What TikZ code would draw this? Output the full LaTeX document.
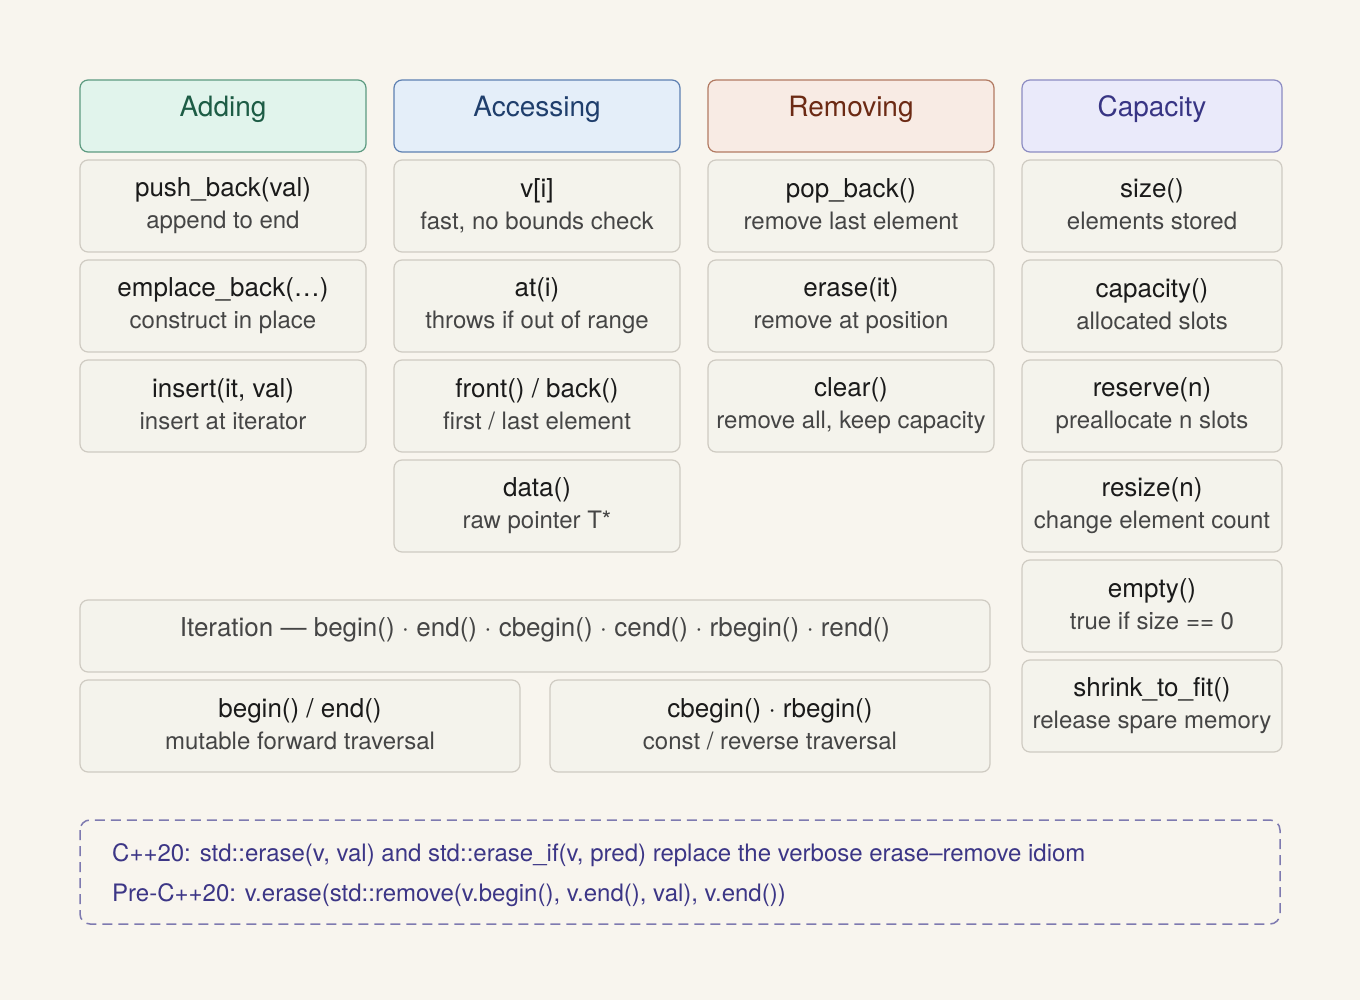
\documentclass[tikz,border=0pt]{standalone}
\usepackage{fontspec}
\setmainfont{TeX Gyre Heros}
\usepackage{tikz}

\definecolor{bgc}{HTML}{F8F5EE}
\definecolor{itemfill}{HTML}{F4F3EC}
\definecolor{itemdraw}{HTML}{CFCBC2}
\definecolor{maintxt}{HTML}{1A1A1A}
\definecolor{subtxt}{HTML}{454545}
\definecolor{addfill}{HTML}{E1F4EC}
\definecolor{adddraw}{HTML}{5C9A80}
\definecolor{addtxt}{HTML}{1D5C45}
\definecolor{accfill}{HTML}{E4EEF9}
\definecolor{accdraw}{HTML}{5E80B2}
\definecolor{acctxt}{HTML}{1F3E6C}
\definecolor{remfill}{HTML}{F8EBE4}
\definecolor{remdraw}{HTML}{B27A62}
\definecolor{remtxt}{HTML}{6C2A14}
\definecolor{capfill}{HTML}{EAEAFA}
\definecolor{capdraw}{HTML}{8C8CC2}
\definecolor{captxt}{HTML}{383584}
\definecolor{notedraw}{HTML}{7E7AB0}
\definecolor{notetxt}{HTML}{3C3686}

% second line of an item: smaller, grey, fixed depth
\newcommand{\subl}{\fontsize{24}{32}\selectfont\color{subtxt}\rule[-4pt]{0pt}{4pt}}

\begin{document}
\begin{tikzpicture}[x=1pt, y=-1pt,
  item/.style={draw=itemdraw, fill=itemfill, line width=1.2pt, rounded corners=8pt, minimum height=92pt, align=center, text=maintxt, font=\fontsize{26}{32}\selectfont, execute at begin node=\rule{0pt}{26pt}},
  head/.style={line width=1.2pt, rounded corners=8pt, minimum height=72pt, inner ysep=0pt, text height=37pt, text depth=35pt, font=\fontsize{28}{32}\selectfont},
  notetext/.style={anchor=base west, inner sep=0pt, text=notetxt, font=\fontsize{24}{30}\selectfont}]
  \fill[bgc] (0,0) rectangle (1360,1000);

  % column headers
  \node[head, draw=adddraw, fill=addfill, text=addtxt, minimum width=286pt] (hadd) at (223,116) {Adding};
  \node[head, draw=accdraw, fill=accfill, text=acctxt, minimum width=286pt] (hacc) at (537,116) {Accessing};
  \node[head, draw=remdraw, fill=remfill, text=remtxt, minimum width=286pt] (hrem) at (851,116) {Removing};
  \node[head, draw=capdraw, fill=capfill, text=captxt, minimum width=260pt] (hcap) at (1152,116) {Capacity};

  % adding
  \node[item, minimum width=286pt] (push) at (223,206) {push\_back(val)\\\subl append to end};
  \node[item, minimum width=286pt] (emplace) at (223,306) {emplace\_back(…)\\\subl construct in place};
  \node[item, minimum width=286pt] (insert) at (223,406) {insert(it, val)\\\subl insert at iterator};

  % accessing
  \node[item, minimum width=286pt] (idx) at (537,206) {v[i]\\\subl fast, no bounds check};
  \node[item, minimum width=286pt] (at) at (537,306) {at(i)\\\subl throws if out of range};
  \node[item, minimum width=286pt] (front) at (537,406) {front() / back()\\\subl first / last element};
  \node[item, minimum width=286pt] (data) at (537,506) {data()\\\subl raw pointer T*};

  % removing
  \node[item, minimum width=286pt] (pop) at (851,206) {pop\_back()\\\subl remove last element};
  \node[item, minimum width=286pt] (erase) at (851,306) {erase(it)\\\subl remove at position};
  \node[item, minimum width=286pt] (clear) at (851,406) {clear()\\\subl remove all, keep capacity};

  % capacity
  \node[item, minimum width=260pt] (size) at (1152,206) {size()\\\subl elements stored};
  \node[item, minimum width=260pt] (cap) at (1152,306) {capacity()\\\subl allocated slots};
  \node[item, minimum width=260pt] (reserve) at (1152,406) {reserve(n)\\\subl preallocate n slots};
  \node[item, minimum width=260pt] (resize) at (1152,506) {resize(n)\\\subl change element count};
  \node[item, minimum width=260pt] (empty) at (1152,606) {empty()\\\subl true if size == 0};
  \node[item, minimum width=260pt] (shrink) at (1152,706) {shrink\_to\_fit()\\\subl release spare memory};

  % iteration
  \node[item, minimum width=910pt, minimum height=72pt, inner ysep=0pt, text height=36pt, text depth=36pt, text=subtxt] (iter) at (535,636) {Iteration — begin() · end() · cbegin() · cend() · rbegin() · rend()};
  \node[item, minimum width=440pt] (beginend) at (300,726) {begin() / end()\\\subl mutable forward traversal};
  \node[item, minimum width=440pt] (cbegin) at (770,726) {cbegin() · rbegin()\\\subl const / reverse traversal};

  % note
  \draw[notedraw, line width=1.5pt, dash pattern=on 10pt off 6pt, rounded corners=10pt] (80,820) rectangle (1280,924);
  \node[notetext] (note1) at (112,861) {C++20: std::erase(v, val) and std::erase\_if(v, pred) replace the verbose erase–remove idiom};
  \node[notetext] (note2) at (112,901) {Pre-C++20: v.erase(std::remove(v.begin(), v.end(), val), v.end())};
\end{tikzpicture}
\end{document}
